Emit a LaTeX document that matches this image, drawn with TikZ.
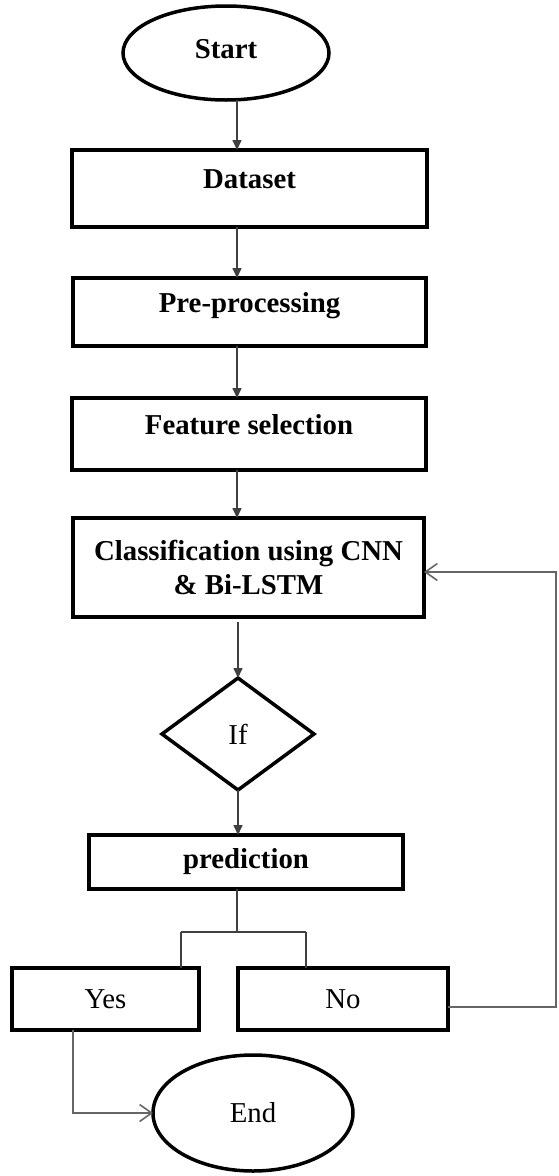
\documentclass[tikz,border=0pt]{standalone}
\usepackage{fontspec}
\setmainfont{Liberation Serif}
\usetikzlibrary{shapes.geometric,arrows.meta}

\tikzset{
  x=1pt, y=-1pt,
  every node/.style={font=\fontsize{28.8}{34}\selectfont, inner sep=0pt, outer sep=0pt},
  stepbox/.style={draw=black, line width=3.5pt, rectangle, fill=white, font=\fontsize{28.8}{34}\selectfont\bfseries},
  plainbox/.style={draw=black, line width=3.5pt, rectangle, fill=white},
  terminal/.style={draw=black, line width=3.5pt, ellipse},
  decision/.style={draw=black, line width=3.5pt, diamond},
  midtext/.style={text height=12pt, text depth=12pt},
  flow/.style={draw=black!75, line width=1.6pt, -{Triangle[length=10pt,width=9pt]}},
  joint/.style={draw=black!75, line width=1.6pt},
  back/.style={draw=black!60, line width=1.6pt, -{Straight Barb[length=12pt,width=17pt,line width=1.6pt]}},
}

\begin{document}
\begin{tikzpicture}
  \useasboundingbox (0,0) rectangle (558,1176);

  % main column of steps
  \node[terminal, minimum width=206pt, minimum height=94pt, font=\fontsize{28.8}{34}\selectfont\bfseries, text depth=9pt]
    (start) at (226,53) {Start};
  \node[stepbox, midtext, minimum width=355pt, minimum height=77pt] (dataset) at (249.5,188.5) {Dataset};
  \node[stepbox, midtext, minimum width=353pt, minimum height=68pt] (pre) at (249.5,312) {Pre-processing};
  \node[stepbox, midtext, minimum width=354pt, minimum height=72pt] (feat) at (249,434) {Feature selection};
  \node[stepbox, align=center, minimum width=351pt, minimum height=99pt] (class) at (248.5,567.5)
    {Classification using CNN\\\& Bi-LSTM};
  \node[decision, minimum width=152pt, minimum height=112pt] (cond) at (238,734) {If};
  \node[stepbox, minimum width=314pt, minimum height=54pt] (pred) at (246,862) {prediction};

  % outcomes
  \node[plainbox, minimum width=187pt, minimum height=62pt] (yes) at (105.5,999) {Yes};
  \node[plainbox, minimum width=210pt, minimum height=62pt] (no) at (343,999) {No};
  \node[terminal, minimum width=200pt, minimum height=116pt] (end) at (253,1113) {End};

  % routing points
  \coordinate (axis) at (237,0);
  \coordinate (split) at (237,932);
  \coordinate (splitL) at (181,932);
  \coordinate (splitR) at (306,932);
  \coordinate (loopB) at (556,1007);
  \coordinate (loopT) at (556,572);
  \coordinate (yesdrop) at (73,0);

  % forward flow
  \draw[flow] (start.south -| axis) -- (dataset.north -| axis);
  \draw[flow] (dataset.south -| axis) -- (pre.north -| axis);
  \draw[flow] (pre.south -| axis) -- (feat.north -| axis);
  \draw[flow] (feat.south -| axis) -- (class.north -| axis);
  \draw[flow, shorten <=5pt] (class.south -| cond) -- (cond.north);
  \draw[flow] (cond.south) -- (pred.north -| cond);

  % branch to the outcomes
  \draw[joint] (pred.south -| split) -- (split);
  \draw[joint] (splitL) -- (splitR);
  \draw[joint] (splitL) -- (yes.north -| splitL);
  \draw[joint] (splitR) -- (no.north -| splitR);

  % loop back from No
  \draw[back] (no.east |- loopB) -- (loopB) -- (loopT) -- (class.east |- loopT);

  % Yes leads to End
  \draw[back] (yes.south -| yesdrop) |- (end.west);
\end{tikzpicture}
\end{document}
